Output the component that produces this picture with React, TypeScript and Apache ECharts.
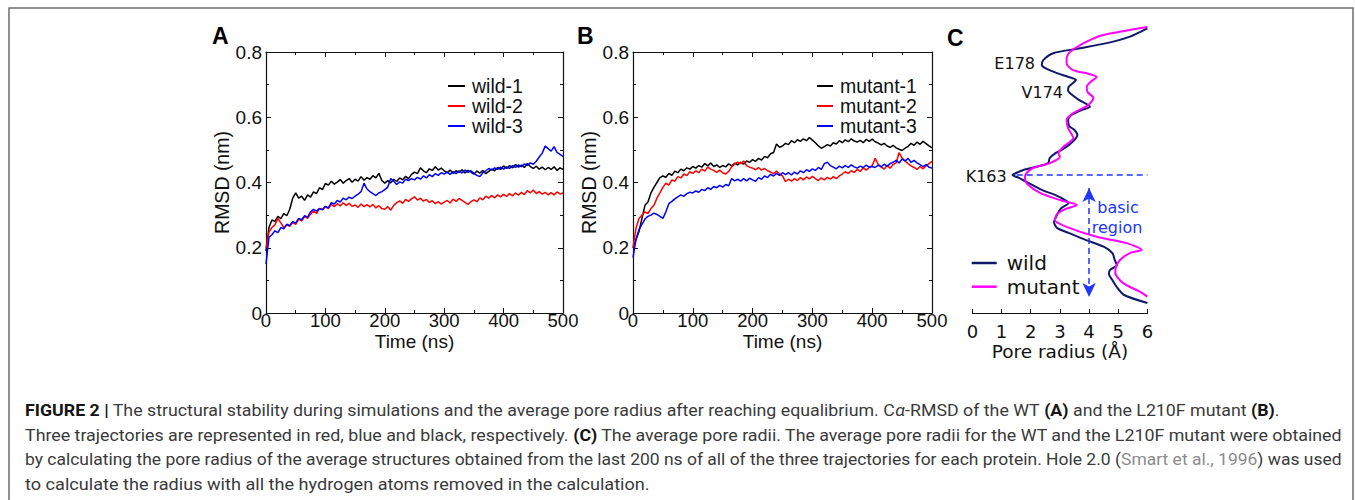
import React, { useEffect, useRef } from "react";
import * as echarts from "echarts";

// ---------- Data ----------
// Time grid of the RMSD trajectories (ns), sampled every 5 ns
const timeNs: number[] = Array.from({ length: 101 }, (_, i) => i * 5);

const wild1 = [
  0.19, 0.262, 0.285, 0.281, 0.296, 0.289, 0.305, 0.298, 0.318, 0.352,
  0.368, 0.352, 0.358, 0.345, 0.362, 0.355, 0.371, 0.366, 0.384, 0.378,
  0.397, 0.392, 0.404, 0.395, 0.401, 0.409, 0.398, 0.406, 0.412, 0.401,
  0.41, 0.404, 0.418, 0.407, 0.415, 0.41, 0.421, 0.414, 0.428, 0.406,
  0.398, 0.406, 0.399, 0.41, 0.403, 0.414, 0.408, 0.419, 0.412, 0.425,
  0.432, 0.427, 0.445, 0.436, 0.43, 0.442, 0.437, 0.448, 0.438, 0.444,
  0.436, 0.43, 0.438, 0.428, 0.436, 0.431, 0.439, 0.429, 0.437, 0.432,
  0.426, 0.435, 0.429, 0.437, 0.427, 0.434, 0.441, 0.436, 0.446, 0.44,
  0.451, 0.443, 0.452, 0.445, 0.455, 0.447, 0.453, 0.446, 0.458, 0.449,
  0.443, 0.45, 0.441, 0.447, 0.439, 0.446, 0.44, 0.448, 0.437, 0.445,
  0.44,
];
const wild2 = [
  0.2, 0.248, 0.262, 0.27, 0.29, 0.276, 0.262, 0.27, 0.266, 0.278,
  0.272, 0.288, 0.282, 0.296, 0.29, 0.303, 0.312, 0.305, 0.32, 0.318,
  0.326, 0.32, 0.333, 0.326, 0.335, 0.328, 0.338, 0.33, 0.336, 0.327,
  0.331, 0.324, 0.334, 0.326, 0.332, 0.325, 0.333, 0.322, 0.329, 0.32,
  0.318, 0.326, 0.315, 0.33, 0.338, 0.344, 0.336, 0.348, 0.342, 0.35,
  0.356, 0.346, 0.352, 0.343, 0.348, 0.339, 0.344, 0.335, 0.341, 0.334,
  0.34, 0.345, 0.337, 0.349, 0.342, 0.351, 0.345, 0.339, 0.333, 0.341,
  0.347, 0.341, 0.353, 0.347, 0.358, 0.352, 0.36, 0.353, 0.362, 0.356,
  0.364, 0.357, 0.366, 0.359, 0.368, 0.361, 0.37, 0.363, 0.375, 0.368,
  0.377, 0.366, 0.372, 0.364, 0.37, 0.362, 0.369, 0.362, 0.371, 0.365,
  0.368,
];
const wild3 = [
  0.15, 0.232, 0.24, 0.252, 0.246, 0.262, 0.258, 0.272, 0.268, 0.28,
  0.276, 0.29, 0.286, 0.298, 0.294, 0.31, 0.318, 0.312, 0.32, 0.316,
  0.327, 0.322, 0.338, 0.334, 0.345, 0.34, 0.352, 0.347, 0.355, 0.351,
  0.358, 0.364, 0.372, 0.398, 0.38, 0.372, 0.366, 0.36, 0.368, 0.372,
  0.378, 0.386, 0.412, 0.404, 0.394, 0.402, 0.398, 0.41, 0.406, 0.412,
  0.408, 0.416, 0.41, 0.42, 0.414, 0.424, 0.418, 0.427, 0.422, 0.43,
  0.426, 0.432, 0.425, 0.433, 0.427, 0.436, 0.429, 0.438, 0.431, 0.436,
  0.428, 0.422, 0.418, 0.43, 0.436, 0.443, 0.438, 0.445, 0.44, 0.447,
  0.441, 0.448, 0.443, 0.452, 0.446, 0.454, 0.448, 0.457, 0.452, 0.46,
  0.456, 0.465, 0.478, 0.49, 0.512, 0.504, 0.496, 0.51, 0.492, 0.486,
  0.48,
];
const mutant1 = [
  0.2, 0.225, 0.25, 0.29, 0.33, 0.34, 0.368, 0.385, 0.4, 0.415,
  0.42, 0.416, 0.428, 0.422, 0.435, 0.43, 0.441, 0.436, 0.445, 0.441,
  0.449, 0.444, 0.452, 0.447, 0.458, 0.451, 0.46, 0.449, 0.454, 0.446,
  0.452, 0.448, 0.457, 0.451, 0.459, 0.454, 0.462, 0.456, 0.466, 0.462,
  0.47, 0.465, 0.474, 0.469, 0.48, 0.476, 0.488, 0.492, 0.518, 0.508,
  0.512, 0.52, 0.516, 0.528, 0.522, 0.531, 0.526, 0.534, 0.528, 0.538,
  0.53, 0.522, 0.512, 0.505, 0.51, 0.516, 0.512, 0.522, 0.518, 0.528,
  0.522, 0.531, 0.525, 0.534, 0.527, 0.524, 0.529, 0.522, 0.532, 0.526,
  0.533, 0.525, 0.521, 0.515, 0.52, 0.512, 0.508, 0.514, 0.506, 0.502,
  0.498, 0.505, 0.511, 0.52, 0.514, 0.524, 0.517, 0.526, 0.519, 0.512,
  0.506,
];
const mutant2 = [
  0.2, 0.26, 0.29, 0.3, 0.31, 0.305, 0.32, 0.33, 0.352, 0.368,
  0.385, 0.398, 0.392, 0.408, 0.404, 0.418, 0.414, 0.426, 0.421, 0.433,
  0.428, 0.436, 0.43, 0.441, 0.435, 0.447, 0.441, 0.437, 0.431, 0.438,
  0.43, 0.426, 0.434, 0.448, 0.457, 0.462, 0.458, 0.466, 0.452, 0.447,
  0.444, 0.439, 0.446, 0.438, 0.443, 0.436, 0.432, 0.427, 0.435, 0.426,
  0.42, 0.403, 0.41, 0.404, 0.412, 0.406, 0.415, 0.408, 0.417, 0.411,
  0.419, 0.412, 0.406, 0.414, 0.408, 0.416, 0.41, 0.418, 0.412, 0.42,
  0.426, 0.433, 0.428, 0.436, 0.431, 0.44, 0.434, 0.445, 0.438, 0.446,
  0.452, 0.474, 0.456, 0.448, 0.441, 0.452, 0.444, 0.455, 0.46, 0.492,
  0.475, 0.466, 0.458, 0.451, 0.446, 0.44, 0.449, 0.442, 0.451, 0.458,
  0.465,
];
const mutant3 = [
  0.17, 0.225, 0.255, 0.272, 0.288, 0.296, 0.3, 0.306, 0.302, 0.296,
  0.29, 0.31, 0.335, 0.342, 0.35, 0.356, 0.362, 0.358, 0.366, 0.37,
  0.368, 0.374, 0.37, 0.379, 0.375, 0.384, 0.379, 0.388, 0.384, 0.391,
  0.386, 0.394, 0.39, 0.412, 0.405, 0.41, 0.404, 0.412, 0.405, 0.413,
  0.408, 0.404, 0.415, 0.41, 0.42, 0.415, 0.425, 0.42, 0.428, 0.422,
  0.43, 0.424, 0.43, 0.423, 0.432, 0.426, 0.436, 0.43, 0.439, 0.434,
  0.442, 0.437, 0.446, 0.44, 0.458, 0.462, 0.452, 0.447, 0.442, 0.45,
  0.445, 0.452, 0.446, 0.454, 0.448, 0.444, 0.45, 0.446, 0.453, 0.447,
  0.449, 0.446, 0.453, 0.448, 0.456, 0.45, 0.458, 0.462, 0.468, 0.46,
  0.472, 0.466, 0.474, 0.462, 0.468, 0.46, 0.455, 0.449, 0.455, 0.447,
  0.444,
];

// Pore profile (panel C): [radius (Å), position along pore (arb. units)]
const wildPore: [number, number][] = [
  [6.0, 99.5], [5.4, 96.5], [4.83, 94.7], [3.69, 92.3], [2.77, 90.5], [2.43, 88.0],
  [2.38, 86.2], [2.5, 85.1], [2.9, 83.3], [3.3, 81.9], [3.55, 80.8], [3.45, 79.7],
  [3.3, 78.3], [3.28, 77.0], [3.38, 75.7], [3.65, 73.6], [4.03, 71.1], [3.75, 69.9],
  [3.4, 68.1], [3.28, 66.3], [3.32, 64.1], [3.5, 62.7], [3.6, 60.9], [3.5, 59.1],
  [3.3, 57.2], [3.05, 55.4], [2.85, 54.3], [2.65, 52.5], [2.6, 50.7], [2.2, 49.4],
  [1.75, 48.2], [1.5, 47.1], [1.38, 46.4], [1.6, 45.3], [1.85, 43.9], [2.05, 42.8],
  [2.4, 40.9], [2.85, 39.1], [3.18, 37.3], [3.3, 36.2], [3.05, 34.4], [2.9, 31.9],
  [2.8, 29.3], [2.9, 27.2], [3.3, 25.4], [3.9, 22.8], [4.5, 20.4], [4.8, 18.1],
  [4.88, 15.6], [4.95, 13.8], [4.72, 12.0], [4.68, 10.5], [4.8, 8.3], [4.95, 5.8],
  [5.2, 2.9], [6.0, 0],
];
const mutantPore: [number, number][] = [
  [6.0, 100], [4.49, 97.1], [3.92, 94.7], [3.35, 91.0], [3.23, 88.7], [3.23, 86.8],
  [3.45, 84.4], [4.0, 83.0], [4.26, 81.9], [4.05, 80.1], [3.92, 78.3], [3.95, 76.4],
  [4.15, 74.3], [3.97, 71.7], [3.46, 68.8], [3.23, 66.3], [3.28, 63.4], [3.46, 59.8],
  [3.12, 56.6], [2.95, 54.3], [3.0, 53.0], [2.66, 50.7], [2.08, 48.9], [1.86, 47.1],
  [1.8, 45.3], [1.88, 43.1], [2.32, 39.9], [3.0, 37.3], [3.58, 35.5], [3.2, 34.1],
  [2.9, 32.2], [2.83, 30.1], [3.23, 27.6], [4.26, 24.0], [5.29, 21.7], [5.8, 19.2],
  [5.4, 18.1], [5.06, 15.6], [4.92, 13.0], [4.9, 10.9], [5.17, 7.2], [5.74, 4.1],
  [6.0, 2.3],
];

// K163 level and the basic-region span (position units)
const k163Level = 46.3;
const basicRegion = [41.7, 2.2];
const basicRegionRadius = 4;

const captionLines = [
  [
    ["b", "FIGURE 2 |"],
    ["r", " The structural stability during simulations and the average pore radius after reaching equalibrium. C"],
    ["i", "α"],
    ["r", "-RMSD of the WT "],
    ["b", "(A)"],
    ["r", " and the L210F mutant "],
    ["b", "(B)"],
    ["r", "."],
  ],
  [
    ["r", "Three trajectories are represented in red, blue and black, respectively. "],
    ["b", "(C)"],
    ["r", " The average pore radii. The average pore radii for the WT and the L210F mutant were obtained"],
  ],
  [
    ["r", "by calculating the pore radius of the average structures obtained from the last 200 ns of all of the three trajectories for each protein. Hole 2.0 ("],
    ["g", "Smart et al., 1996"],
    ["r", ") was used"],
  ],
  [["r", "to calculate the radius with all the hydrogen atoms removed in the calculation."]],
];

// ---------- Styling helpers ----------
const SANS = "'Liberation Sans', Arial, sans-serif";
const DEJAVU = "'DejaVu Sans', sans-serif";
const CAP_FONT = "Roboto";
const CAP_SIZE = 16;
const AX = "#111";

function rmsdAxes(gridIndex: number) {
  const tick = { inside: true, length: 5, lineStyle: { color: AX, width: 1 } };
  const minor = { show: true, splitNumber: 2, length: 3, lineStyle: { color: AX, width: 1 } };
  const line = { show: true, onZero: false, lineStyle: { color: AX, width: 1.2 } };
  const lab = { fontSize: 19, fontFamily: SANS, color: AX };
  const xBase = {
    type: "value", gridIndex, min: 0, max: 500, interval: 100,
    axisLine: line, axisTick: tick, minorTick: minor,
    splitLine: { show: false }, minorSplitLine: { show: false },
  };
  const yBase = {
    type: "value", gridIndex, min: 0, max: 0.8, interval: 0.2,
    axisLine: line, axisTick: tick, minorTick: minor,
    splitLine: { show: false }, minorSplitLine: { show: false },
  };
  return {
    x: [
      {
        ...xBase, position: "bottom",
        axisLabel: { ...lab, fontSize: 18.5, margin: 0, lineHeight: 15 },
        name: "Time (ns)", nameLocation: "middle", nameGap: 21, nameMoveOverlap: false,
        nameTextStyle: { fontSize: 19, fontFamily: SANS, color: AX, lineHeight: 15 },
      },
      { ...xBase, position: "top", axisLabel: { show: false } },
    ],
    y: [
      {
        ...yBase, position: "left",
        axisLabel: { ...lab, margin: 4 },
        name: "RMSD (nm)", nameLocation: "middle", nameGap: 34, nameMoveOverlap: false,
        nameTextStyle: { fontSize: 19.5, fontFamily: SANS, color: AX },
      },
      { ...yBase, position: "right", axisLabel: { show: false } },
    ],
  };
}

function pairs(values: number[]) {
  return values.map((v, i) => [timeNs[i], v]);
}

function rmsdSeries(name: string, values: number[], color: string, axisIndex: number) {
  return {
    type: "line", name, data: pairs(values),
    xAxisIndex: axisIndex, yAxisIndex: axisIndex,
    symbol: "none", color,
    lineStyle: { color, width: 1.5 },
    silent: true,
  };
}

const capStyles: Record<string, any> = {
  r: { fontSize: CAP_SIZE, fontFamily: CAP_FONT, fill: "#3a3a3a" },
  b: { fontSize: CAP_SIZE, fontFamily: CAP_FONT, fontWeight: "bold", fill: "#141414" },
  i: { fontSize: CAP_SIZE, fontFamily: CAP_FONT, fontStyle: "italic", fill: "#3a3a3a" },
  g: { fontSize: CAP_SIZE, fontFamily: CAP_FONT, fill: "#8c8c8c" },
};

function captionGraphics() {
  const canvas = document.createElement("canvas");
  const ctx = canvas.getContext("2d")!;
  const fontOf = (s: string) =>
    `${s === "i" ? "italic " : ""}${s === "b" ? "bold " : ""}${CAP_SIZE}px ${CAP_FONT}`;
  const targets = [1255, 1318, 1316, 625];
  const ys = [410, 435, 459.5, 484];
  return captionLines.map((line, k) => {
    let w = 0;
    line.forEach(([s, t]) => {
      ctx.font = fontOf(s);
      w += ctx.measureText(t).width;
    });
    const text = line.map(([s, t]) => `{${s}|${t}}`).join("");
    return {
      type: "text", x: 25, y: ys[k], scaleX: w > 0 ? targets[k] / w : 1, silent: true,
      style: {
        text, fontSize: CAP_SIZE, fontFamily: CAP_FONT, fill: "#3a3a3a",
        verticalAlign: "middle", align: "left", rich: capStyles,
      },
    };
  });
}

export default function App() {
  const ref = useRef<HTMLDivElement>(null);

  useEffect(() => {
    document.body.style.margin = "0";
    if (!ref.current) return;
    const chart = echarts.init(ref.current, null, { renderer: "svg" });

    const a = rmsdAxes(0);
    const b = rmsdAxes(1);

    const poreX = {
      type: "value", gridIndex: 2, min: 0, max: 6, interval: 1, position: "bottom", offset: 10,
      axisLine: { show: true, onZero: false, lineStyle: { color: AX, width: 1.2 } },
      axisTick: { inside: true, length: 4, lineStyle: { color: AX } },
      splitLine: { show: false },
      axisLabel: { fontSize: 18, fontFamily: DEJAVU, color: AX, margin: 9 },
      name: "Pore radius (Å)", nameLocation: "middle", nameGap: 29, nameMoveOverlap: false,
      nameTextStyle: { fontSize: 18.5, fontFamily: DEJAVU, color: AX },
    };
    const poreY = { type: "value", gridIndex: 2, min: 0, max: 100, show: false };

    const legendText = { fontSize: 19.5, lineHeight: 18.5, fontFamily: SANS, color: AX, padding: [0, 0, 0, 2] };

    const letter = (t: string, x: number, y: number) => ({
      type: "text", x, y, silent: true,
      style: { text: t, fontSize: 23, fontWeight: "bold", fontFamily: SANS, fill: "#000", verticalAlign: "middle" },
    });
    const note = (t: string, x: number, y: number, align: string, fill = "#111") => ({
      type: "text", x, y, silent: true,
      style: { text: t, fontSize: 16, fontFamily: DEJAVU, fill, align, verticalAlign: "middle" },
    });

    const option: any = {
      animation: false,
      backgroundColor: "#fff",
      grid: [
        { left: 266, top: 52, width: 297, height: 261, containLabel: false, outerBoundsMode: "none" },
        { left: 633, top: 52, width: 299, height: 261, containLabel: false, outerBoundsMode: "none" },
        { left: 972.4, top: 27, width: 175, height: 276, containLabel: false, outerBoundsMode: "none" },
      ],
      xAxis: [...a.x, ...b.x.map((x) => ({ ...x, gridIndex: 1 })), poreX],
      yAxis: [...a.y, ...b.y.map((y) => ({ ...y, gridIndex: 1 })), poreY],
      legend: [
        {
          data: ["wild-1", "wild-2", "wild-3"], orient: "vertical", left: 443, top: 71,
          icon: "rect", itemWidth: 17, itemHeight: 2, itemGap: 0, selectedMode: false,
          textStyle: legendText,
        },
        {
          data: ["mutant-1", "mutant-2", "mutant-3"], orient: "vertical", left: 812, top: 71,
          icon: "rect", itemWidth: 16, itemHeight: 2, itemGap: 0, selectedMode: false,
          textStyle: legendText,
        },
        {
          data: ["wild", "mutant"], orient: "vertical", left: 966.7, top: 248,
          icon: "rect", itemWidth: 25, itemHeight: 2.5, itemGap: 3.7, selectedMode: false,
          textStyle: { fontSize: 20, lineHeight: 20, fontFamily: DEJAVU, color: AX, padding: [0, 0, 0, 5] },
        },
      ],
      series: [
        rmsdSeries("wild-1", wild1, "#000000", 0),
        rmsdSeries("wild-2", wild2, "#ff0000", 0),
        rmsdSeries("wild-3", wild3, "#0000ff", 0),
        { ...rmsdSeries("mutant-1", mutant1, "#000000", 2), yAxisIndex: 2 },
        { ...rmsdSeries("mutant-2", mutant2, "#ff0000", 2), yAxisIndex: 2 },
        { ...rmsdSeries("mutant-3", mutant3, "#0000ff", 2), yAxisIndex: 2 },
        {
          type: "line", name: "wild", data: wildPore, xAxisIndex: 4, yAxisIndex: 4,
          symbol: "none", smooth: 0.25, color: "#11186b",
          lineStyle: { color: "#11186b", width: 2 }, silent: true,
        },
        {
          type: "line", name: "mutant", data: mutantPore, xAxisIndex: 4, yAxisIndex: 4,
          symbol: "none", smooth: 0.25, color: "#ff00ff",
          lineStyle: { color: "#ff00ff", width: 2 }, silent: true,
        },
        {
          type: "line", name: "guides", data: [], xAxisIndex: 4, yAxisIndex: 4, silent: true,
          markLine: {
            silent: true, animation: false,
            symbol: ["none", "none"],
            label: { show: false },
            lineStyle: { type: [6, 4], color: "#2035ff", width: 1.5 },
            data: [
              [
                { coord: [1.52, k163Level], symbol: "none" },
                { coord: [6, k163Level], symbol: "none" },
              ],
              [
                { coord: [basicRegionRadius, basicRegion[0]], symbol: "arrow", symbolSize: [10, 14] },
                { coord: [basicRegionRadius, basicRegion[1]], symbol: "arrow", symbolSize: [10, 14] },
              ],
            ],
          },
        },
      ],
      graphic: [
        {
          type: "rect", silent: true,
          shape: { x: 9, y: 8, width: 1344, height: 520 },
          style: { fill: "none", stroke: "#6e6e6e", lineWidth: 1.5 },
        },
        letter("A", 212, 35.5),
        letter("B", 577, 35.5),
        letter("C", 947, 38),
        note("E178", 1035, 63, "right"),
        note("V174", 1063, 92, "right"),
        note("K163", 1006.7, 176.7, "right"),
        note("basic", 1118, 207, "center", "#2035ff"),
        note("region", 1117, 227.5, "center", "#2035ff"),
        ...captionGraphics(),
      ],
    };

    chart.setOption(option);
    return () => chart.dispose();
  }, []);

  return <div ref={ref} style={{ width: 1355, height: 500 }} />;
}
